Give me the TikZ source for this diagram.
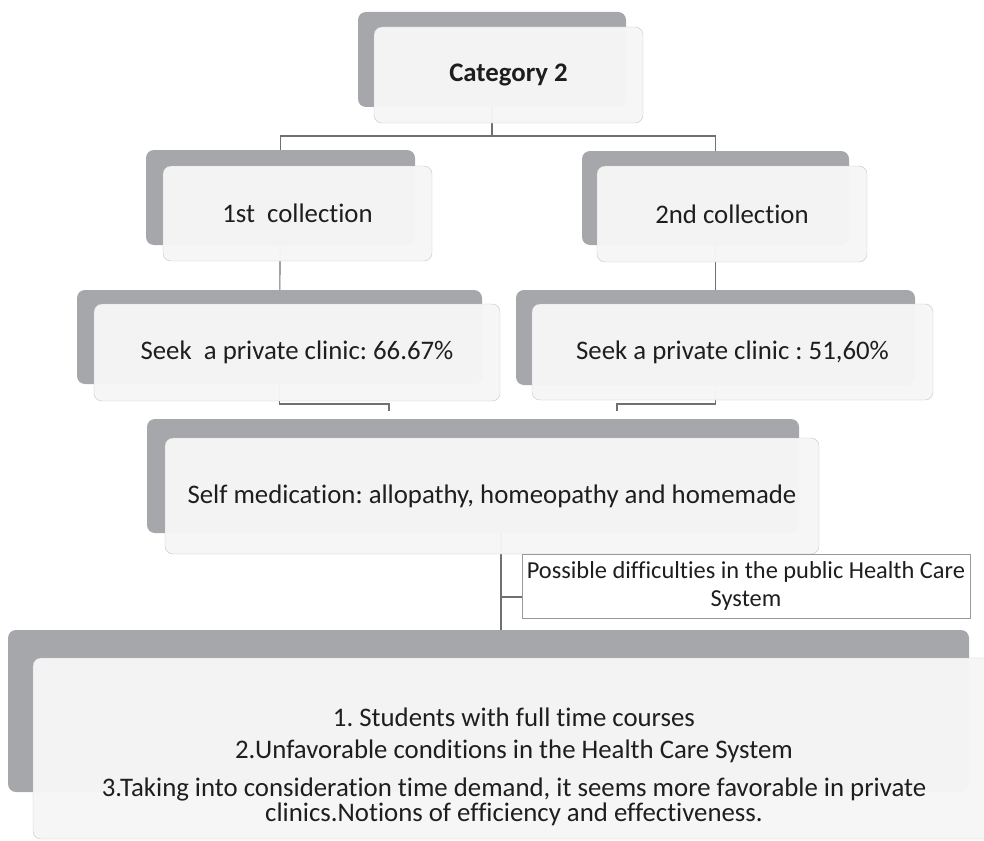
\documentclass[tikz,border=0pt]{standalone}
\usepackage{fontspec}
\setmainfont{Carlito}[Ligatures=NoCommon]
\usetikzlibrary{backgrounds}
\definecolor{backgray}{HTML}{A6A7AB}
\definecolor{frontfill}{HTML}{F6F6F6}
\definecolor{frontline}{HTML}{C6C6C6}
\definecolor{linkgray}{HTML}{707070}
\definecolor{inkgray}{HTML}{1E1E1E}
\frenchspacing
\begin{document}
\begin{tikzpicture}[x=1pt,y=-1pt,
    backbox/.style={fill=backgray, rounded corners=8pt, inner sep=0pt},
    frontbox/.style={fill=frontfill, fill opacity=0.97, text opacity=1, draw=frontline,
      rounded corners=8pt, inner sep=0pt, text=inkgray, font=\fontsize{26.8}{24}\selectfont},
    notebox/.style={fill=white, draw=gray!80, inner sep=0pt, align=center, text=inkgray,
      font=\fontsize{24.4}{28}\selectfont},
    link/.style={draw=linkgray, line width=1.1pt}]
        \useasboundingbox (0,0) rectangle (984,840);

        % Boites grises (arriere)
        \node[backbox, minimum width=268pt, minimum height=95pt] (c2back) at (492,59.5) {};
        \node[backbox, minimum width=269pt, minimum height=95pt] (col1back) at (280.5,197.5) {};
        \node[backbox, minimum width=267pt, minimum height=94pt] (col2back) at (715.5,198) {};
        \node[backbox, minimum width=405pt, minimum height=94pt] (seek1back) at (279.5,337) {};
        \node[backbox, minimum width=399pt, minimum height=95pt] (seek2back) at (715.5,337.5) {};
        \node[backbox, minimum width=652pt, minimum height=114pt] (selfback) at (473,476) {};
        \node[backbox, minimum width=961pt, minimum height=162pt] (bottomback) at (488.5,711) {};

        % Boites claires (avant)
        \node[frontbox, minimum width=269pt, minimum height=96pt, font=\fontsize{26.8}{24}\selectfont\bfseries] (c2) at (508.5,75) {Category 2};
        \node[frontbox, minimum width=269pt, minimum height=95pt] (col1) at (297.5,213.5) {1st\ \ collection};
        \node[frontbox, minimum width=270pt, minimum height=96pt] (col2) at (732,214) {2nd collection};
        \node[frontbox, minimum width=406pt, minimum height=97pt] (seek1) at (297,352.5) {Seek\ \ a private clinic: 66.67\%};
        \node[frontbox, minimum width=401pt, minimum height=96pt] (seek2) at (732.5,352) {Seek a private clinic : 51,60\%};
        \node[frontbox, minimum width=654pt, minimum height=116pt] (self) at (492,496) {Self medication: allopathy, homeopathy and homemade};
        \node[frontbox, minimum width=962pt, minimum height=181pt] (bottomfront) at (514,748.5) {};
        \node[align=center, text=inkgray, font=\fontsize{26.8}{25.5}\selectfont] (reasons) at (514,767)
            {1. Students with full time courses\\[7pt]
             2.Unfavorable conditions in the Health Care System\\[12pt]
             3.Taking into consideration time demand, it seems more favorable in private\\
             clinics.Notions of efficiency and effectiveness.};

        % Note laterale
        \node[notebox, minimum width=448pt, minimum height=64pt] (why) at (746,586)
            {Possible difficulties in the public Health Care\\System};

        % Points de jonction
        \coordinate (split) at (492,136);
        \coordinate (s1bend) at (389,404);
        \coordinate (s1end) at (389,411);
        \coordinate (s2bend) at (617,404);
        \coordinate (s2end) at (617,411);
        \coordinate (tap) at (501,597);

        % Liaisons
        \begin{scope}[on background layer]
            \draw[link] (c2back.center) -- (split);
            \draw[link] (split) -| (col1back.center);
            \draw[link] (split) -| (col2back.center);
            \draw[link] (col1back.center) -- (seek1back.center);
            \draw[link] (col2back.center) -- (seek2back.center);
            \draw[link] (seek1back.center) |- (s1bend) -- (s1end);
            \draw[link] (seek2back.center) |- (s2bend) -- (s2end);
            \draw[link] (tap |- selfback.center) -- (tap |- bottomback.center);
            \draw[link] (tap) -- (tap -| why.west);
        \end{scope}
    \end{tikzpicture}
\end{document}
